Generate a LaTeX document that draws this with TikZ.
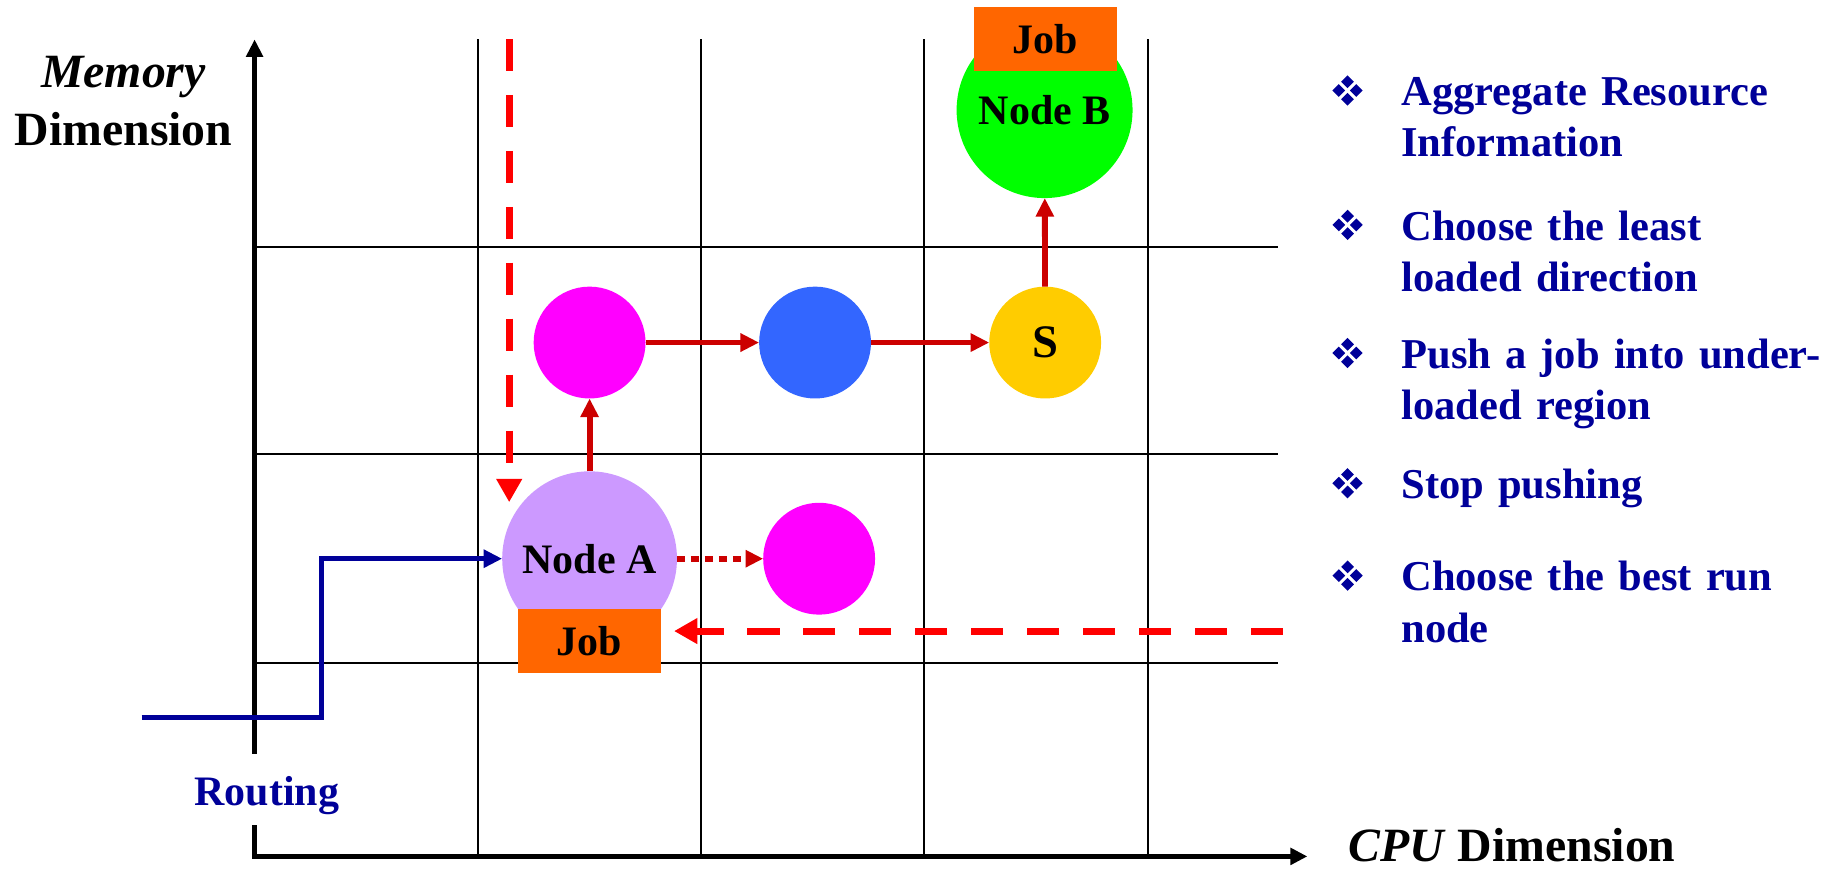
\documentclass[tikz,border=0pt]{standalone}
\usepackage{fontspec}
\setmainfont{Liberation Serif}
\usetikzlibrary{arrows.meta}
\definecolor{lav}{HTML}{CC99FF}
\definecolor{jobor}{HTML}{FF6600}
\definecolor{mag}{HTML}{FF00FF}
\definecolor{blu}{HTML}{3366FF}
\definecolor{gold}{HTML}{FFCC00}
\definecolor{grn}{HTML}{00FF00}
\definecolor{dashred}{HTML}{FF0000}
\definecolor{darkred}{HTML}{CC0000}
\definecolor{navy}{HTML}{000099}
\tikzset{
  gridline/.style={line width=1.6pt, black},
  axisline/.style={line width=4pt, black},
  ball/.style={circle, inner sep=0pt, outer sep=0pt, draw=none, font=\fontsize{36}{40}\selectfont\bfseries},
  jobbox/.style={rectangle, fill=jobor, minimum width=123pt, minimum height=54.5pt, inner sep=0pt, outer sep=0pt, text depth=0pt, font=\fontsize{36}{40}\selectfont\bfseries},
  pushline/.style={line width=5pt, darkred, -{Triangle[length=16pt,width=15pt]}},
  dotline/.style={line width=5pt, darkred, dash pattern=on 7pt off 5pt, -{Triangle[length=15pt,width=14pt]}},
  bigdash/.style={line width=6pt, dashred, dash pattern=on 27.5pt off 20.5pt, -{Triangle[length=20pt,width=21pt]}},
  routeline/.style={line width=4.5pt, navy, -{Triangle[length=16pt,width=15pt]}},
  bullettext/.style={anchor=base west, text=navy, text width=420pt, align=left, inner sep=0pt, font=\fontsize{36.5}{44}\selectfont\bfseries},
  quad/.pic={
    \foreach \dx/\dy in {-7.5/0,7.5/0,0/-7.5,0/7.5}
      \fill[navy] (\dx-5.5,\dy) -- (\dx,\dy-5.5) -- (\dx+5.5,\dy) -- (\dx,\dy+5.5) -- cycle;
  }
}
\begin{document}
\begin{tikzpicture}[x=1pt,y=-1pt]
\useasboundingbox (0,0) rectangle (1568,746);
% grid
\foreach \x in {410,601.5,793,985.5}
  \draw[gridline] (\x,33.5) -- (\x,735);
\foreach \y in {212,390,568.7}
  \draw[gridline] (218.5,\y) -- (1097,\y);
% axes
\coordinate (origin) at (218.5,735);
\coordinate (ytip) at (218.5,33.8);
\coordinate (xtip) at (1122,735);
\draw[axisline, -{Triangle[length=15pt,width=14pt]}] (218.5,737) -- (ytip);
\draw[axisline, -{Triangle[length=14.5pt,width=14pt]}] (216.5,735) -- (xtip);
% axis labels
\node[anchor=base, text width=220pt, align=center, inner sep=0pt, font=\fontsize{41}{50}\selectfont\bfseries] (mem) at (106,75) {\textit{Memory}\hspace*{13pt}\\Dimension};
\node[anchor=base west, inner sep=0pt, font=\fontsize{41}{50}\selectfont\bfseries] (cpu) at (1157,739) {\textit{CPU} Dimension};
\node[anchor=base, text=navy, fill=white, inner xsep=3pt, inner ysep=0pt, text height=44.5pt, text depth=16.5pt, font=\fontsize{36}{40}\selectfont\bfseries] (rt) at (229,691.5) {Routing};
% nodes
\node[ball, fill=lav, minimum size=150pt] (A) at (506,479.5) {Node A};
\node[jobbox] (jobA) at (506,550) {Job};
\node[ball, fill=mag, minimum size=96pt] (m2) at (703,479.5) {};
\node[ball, fill=mag, minimum size=96pt] (m1) at (506,294) {};
\node[ball, fill=blu, minimum size=96pt] (bl) at (699.5,294) {};
\node[ball, fill=gold, minimum size=96pt, font=\fontsize{40}{44}\selectfont\bfseries] (S) at (897,294) {S};
\node[ball, fill=grn, minimum size=151pt] (B) at (896.5,94.5) {Node B};
\node[jobbox] (jobB) at (897,33.5) {Job};
% connectors
\draw[pushline] (A) -- (m1);
\draw[pushline] (m1) -- (bl);
\draw[pushline] (bl) -- (S);
\draw[pushline] (S) -- (B);
\draw[dotline] (A) -- (m2);
\coordinate (rstart) at (121.6,615.6);
\coordinate (rcorner) at (276,615.6);
\draw[routeline] (rstart) -- (rcorner) |- (A.west);
\coordinate (vdtop) at (437,33.5);
\coordinate (vdend) at (437,431);
\draw[bigdash] (vdtop) -- (vdend);
\coordinate (hdstart) at (1101,541.6);
\draw[bigdash, shorten >=11pt] (hdstart) -- (hdstart -| jobA.east);
% bullets
\foreach \yy in {77.7,193,303,414.7,494}
  \pic at (1156.5,\yy) {quad};
\node[bullettext] (t1) at (1202.5,90.7) {Aggregate Resource\\Information};
\node[bullettext] (t2) at (1202.5,206) {Choose the least\\loaded direction};
\node[bullettext] (t3) at (1202.5,316) {Push a job into under-\\loaded region};
\node[bullettext] (t4) at (1202.5,427.7) {Stop pushing};
\node[bullettext] (t5) at (1202.5,507) {Choose the best run\\node};
\end{tikzpicture}
\end{document}
